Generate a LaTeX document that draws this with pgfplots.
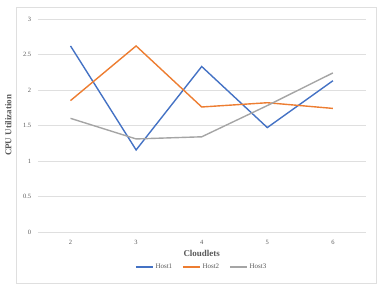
\documentclass[border=0pt]{standalone}
\usepackage{pgfplots}
\pgfplotsset{compat=1.18}
\usepackage{fontspec}
\setmainfont{Liberation Serif}
\definecolor{hA}{HTML}{4472C4}
\definecolor{hB}{HTML}{ED7D31}
\definecolor{hC}{HTML}{A5A5A5}
\definecolor{txt}{HTML}{595959}
\begin{document}
\begin{tikzpicture}[x=1bp,y=1bp]
\begin{axis}[
  scale only axis,
  width=328bp, height=213bp,
  xmin=1.5, xmax=6.5, ymin=0, ymax=3,
  xtick={2,3,4,5,6}, ytick={0,0.5,1,1.5,2,2.5,3},
  yticklabels={0,0.5,1,1.5,2,2.5,3},
  axis line style={draw=none},
  major tick length=0pt,
  ymajorgrids, grid style={gray!25, line width=0.6pt},
  tick label style={font=\fontsize{6.5}{7}\selectfont, text=txt},
  /pgf/number format/assume math mode=true,
  xticklabel style={yshift=-5bp},
  yticklabel style={xshift=-3bp},
  xlabel={\textbf{Cloudlets}},
  ylabel={\textbf{CPU Utilization}},
  label style={font=\fontsize{9}{10}\selectfont, text=txt},
  xlabel style={at={(rel axis cs:0.5,-0.103)}, anchor=center},
  ylabel style={at={(rel axis cs:-0.09,0.5)}, anchor=center},
  clip=false,
  legend columns=3,
  legend style={draw=none, fill=none, at={(0.5,-0.164)}, anchor=center,
    font=\fontsize{7}{8}\selectfont, text=txt,
    /tikz/every even column/.append style={column sep=8bp}},
  legend image code/.code={\draw[#1] (0bp,0bp) -- (17bp,0bp);},
  every axis plot/.append style={line width=1.4pt},
]
\addplot[hA] coordinates {(2,2.62) (3,1.155) (4,2.33) (5,1.47) (6,2.13)};
\addplot[hB] coordinates {(2,1.85) (3,2.62) (4,1.76) (5,1.82) (6,1.74)};
\addplot[hC] coordinates {(2,1.60) (3,1.31) (4,1.34) (5,1.78) (6,2.24)};
\legend{Host1,Host2,Host3}
\draw[gray!25, line width=0.6pt] (rel axis cs:-0.066,-0.239) rectangle (rel axis cs:1.031,1.056);
\path (rel axis cs:-0.115,-0.268) rectangle (rel axis cs:1.0497,1.089);
\end{axis}
\end{tikzpicture}
\end{document}
